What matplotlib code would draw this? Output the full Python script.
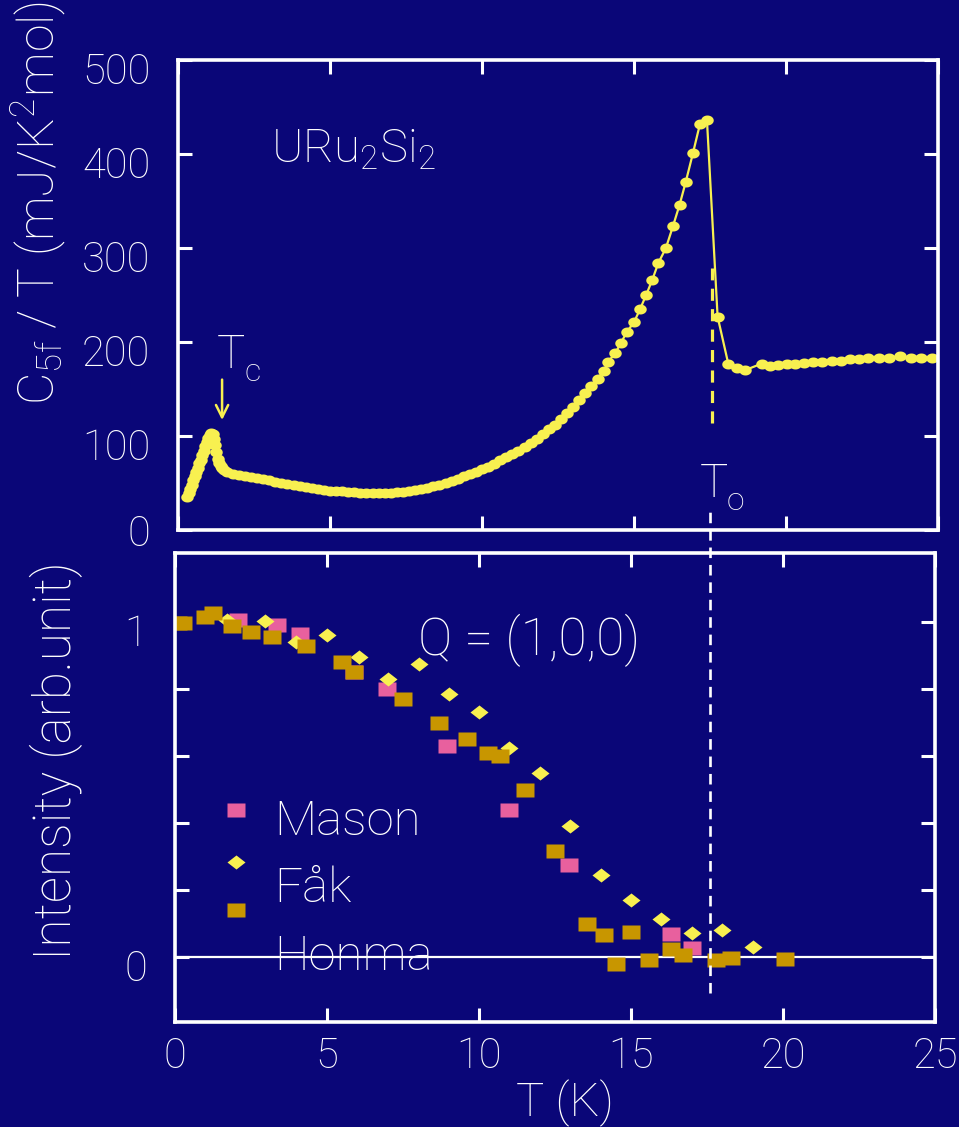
import numpy as np
import matplotlib.pyplot as plt
import matplotlib.transforms as mtransforms
from matplotlib.ticker import FixedLocator, FuncFormatter

bg = '#0a0678'
yellow = '#f8f050'
pink = '#e8609e'
gold = '#c89600'

plt.rcParams['font.family'] = ['Roboto', 'Liberation Sans', 'DejaVu Sans']
plt.rcParams['font.weight'] = 'light'
plt.rcParams['mathtext.default'] = 'regular'

# specific heat C5f/T (mJ/K^2 mol) vs T (K)
t_cp = [0.30, 0.35, 0.40, 0.45, 0.50, 0.55, 0.60, 0.65, 0.70, 0.75, 0.80, 0.85,
        0.90, 0.95, 1.00, 1.05, 1.10, 1.15, 1.20, 1.23, 1.26, 1.30, 1.35, 1.40,
        1.45, 1.50, 1.6, 1.8, 2.0, 2.2, 2.4, 2.6, 2.8, 3.0, 3.2, 3.4, 3.6, 3.8,
        4.0, 4.2, 4.4, 4.6, 4.8, 5.0, 5.2, 5.4, 5.6, 5.8, 6.0, 6.2, 6.4, 6.6,
        6.8, 7.0, 7.2, 7.4, 7.6, 7.8, 8.0, 8.2, 8.4, 8.6, 8.8, 9.0, 9.2, 9.4,
        9.6, 9.8, 10.0, 10.2, 10.4, 10.6, 10.8, 11.0, 11.2, 11.4, 11.6, 11.8,
        12.0, 12.2, 12.4, 12.6, 12.8, 13.0, 13.2, 13.4, 13.6, 13.8, 14.0,
        14.15, 14.38, 14.57, 14.77, 15.0, 15.2, 15.4, 15.6, 15.8, 16.05, 16.28,
        16.5, 16.7, 16.94, 17.17, 17.4, 17.75, 18.1, 18.4, 18.65, 19.2, 19.47,
        19.74, 20.03, 20.3, 20.6, 20.9, 21.2, 21.5, 21.8, 22.1, 22.4, 22.7,
        23.06, 23.4, 23.75, 24.1, 24.45, 24.8]
cp = [35, 39, 44, 48, 53, 57, 62, 66, 71, 75, 80, 84,
      89, 94, 98, 101, 103, 102, 97, 90, 83, 76, 71, 68,
      66, 64, 62, 60, 58.5, 57, 56, 55, 54, 53, 51.5, 50.5, 49, 48,
      47, 46, 45, 43.5, 42.5, 42, 41.5, 41, 40.5, 40, 39.7, 39.5, 39.3, 39.2,
      39.3, 39.7, 40.2, 40.8, 41.5, 42.5, 43.6, 45, 46.5, 48, 50, 52.5, 54.5, 57,
      59.5, 62, 64.5, 67, 70.5, 74, 77.5, 81, 84.5, 88, 92.5, 97,
      102, 107, 112, 118, 124, 131, 138, 146, 153, 161, 169,
      179, 188, 199, 211, 221, 235, 250, 266, 284, 300, 323,
      346, 370, 401, 432, 436, 227, 177, 172, 170, 177, 175,
      175.5, 177, 177, 178, 179, 179, 180, 180, 182, 182, 183,
      183, 183, 185, 183, 183, 183]

# neutron intensity, Q = (1,0,0)
t_mason = [2.07, 3.35, 4.1, 5.9, 6.97, 8.95, 11.0, 12.96, 16.3, 17.0]
i_mason = [1.006, 0.99, 0.964, 0.85, 0.80, 0.63, 0.44, 0.275, 0.07, 0.027]

t_fak = [1.7, 2.96, 3.98, 5.0, 6.05, 7.0, 8.03, 9.0, 10.0, 11.0, 12.0, 13.0,
         14.0, 15.0, 16.0, 17.0, 18.0, 19.0]
i_fak = [1.006, 1.003, 0.94, 0.96, 0.896, 0.83, 0.875, 0.785, 0.73, 0.624,
         0.55, 0.39, 0.245, 0.17, 0.113, 0.072, 0.08, 0.031]

t_honma = [0.1, 0.26, 0.99, 1.25, 1.87, 2.5, 3.19, 4.3, 5.5, 5.9, 7.5, 8.7,
           9.6, 10.3, 10.7, 11.5, 12.5, 13.55, 14.1, 15.0, 14.5, 15.6, 16.3,
           16.7, 17.8, 18.3, 20.05]
i_honma = [0.997, 0.997, 1.015, 1.027, 0.988, 0.97, 0.955, 0.928, 0.88, 0.85,
           0.77, 0.70, 0.65, 0.61, 0.60, 0.50, 0.315, 0.10, 0.065, 0.075,
           -0.02, -0.01, 0.025, 0.005, -0.01, -0.003, -0.005]

t_o = 17.6
t_c_arrow = 1.45

theta = np.linspace(0, 2 * np.pi, 40)
dot = list(zip(np.cos(theta), 0.8 * np.sin(theta)))
rect = [(-1, -0.78), (1, -0.78), (1, 0.78), (-1, 0.78), (-1, -0.78)]
diamond = [(0, -0.78), (1, 0), (0, 0.78), (-1, 0), (0, -0.78)]

W, H = 959, 1127
fig = plt.figure(figsize=(W / 100, H / 100), dpi=100, facecolor=bg)
ax1 = fig.add_axes([178 / W, 1 - 530 / H, 760 / W, 470 / H])
ax2 = fig.add_axes([175 / W, 1 - 1022 / H, 760 / W, 469 / H])

for ax in (ax1, ax2):
    ax.set_facecolor('none')
    for s in ax.spines.values():
        s.set_color('white')
        s.set_linewidth(2.6)
    ax.tick_params(direction='in', length=10, width=2.2, colors='white',
                   top=True, right=True, labelsize=30)
    ax.tick_params(axis='y', pad=20)
    ax.tick_params(axis='x', pad=10)
    ax.set_xlim(0, 25)
    ax.xaxis.set_major_locator(FixedLocator([0, 5, 10, 15, 20, 25]))

# top panel
ax1.set_ylim(0, 500)
ax1.yaxis.set_major_locator(FixedLocator([0, 100, 200, 300, 400, 500]))
ax1.tick_params(labelbottom=False)
ax1.plot(t_cp, cp, '-', color=yellow, lw=1.6, marker=dot, ms=9, mec='none')
ax1.plot([t_o - 0.05, t_o - 0.05], [114, 279], color=yellow, lw=2.3, dashes=(3.8, 2.6))
ax1.annotate('', xy=(t_c_arrow, 117), xytext=(t_c_arrow, 160),
             arrowprops=dict(arrowstyle='->', color=yellow, lw=1.8,
                             mutation_scale=22, shrinkA=0, shrinkB=0))
ax1.text(0.122, 0.781, 'URu$_2$Si$_2$', transform=ax1.transAxes, color='white',
         fontsize=34, va='baseline', ha='left')
ax1.text(0.051, 0.345, 'T', transform=ax1.transAxes, color='white',
         fontsize=34, va='baseline', ha='left')
ax1.text(0.088, 0.317, 'c', transform=ax1.transAxes, color='white',
         fontsize=23, va='baseline', ha='left')
ax1.text(0.687, 0.070, 'T', transform=ax1.transAxes, color='white',
         fontsize=34, va='baseline', ha='left')
ax1.text(0.722, 0.043, 'o', transform=ax1.transAxes, color='white',
         fontsize=23, va='baseline', ha='left')

# bottom panel
ax2.set_ylim(-0.194, 1.206)
ax2.yaxis.set_major_locator(FixedLocator([0, 0.2, 0.4, 0.6, 0.8, 1.0]))
ax2.yaxis.set_major_formatter(FuncFormatter(lambda v, p: '%d' % v if v in (0, 1) else ''))
ax2.axhline(0, color='white', lw=1.6)
ax2.plot(t_mason, i_mason, ls='none', marker=rect, ms=13.5, color=pink, mec='none')
ax2.plot(t_fak, i_fak, ls='none', marker=diamond, ms=13, color=yellow, mec='none')
ax2.plot(t_honma, i_honma, ls='none', marker=rect, ms=13.5, color=gold, mec='none')
ax2.plot([t_o, t_o], [-0.107, 1.334], color='white', lw=1.9, dashes=(4, 2.6),
         clip_on=False)

legend_y = [0.452, 0.341, 0.239]
legend_txt_y = [0.399, 0.256, 0.111]
for (mk, col, name, ym, yt) in zip([rect, diamond, rect], [pink, yellow, gold],
                                   ['Mason', 'Fåk', 'Honma'], legend_y, legend_txt_y):
    ax2.plot([0.080], [ym], transform=ax2.transAxes, ls='none', marker=mk,
             ms=13, color=col, mec='none')
    ax2.text(0.130, yt, name, transform=ax2.transAxes, color='white',
             fontsize=35.5, va='baseline', ha='left')
ax2.text(0.320, 0.782, 'Q = (1,0,0)', transform=ax2.transAxes, color='white',
         fontsize=37, va='baseline', ha='left')

# y tick labels sit a little below their ticks in the original
shift = mtransforms.ScaledTranslation(0, -8 / 100, fig.dpi_scale_trans)
for ax in (ax1, ax2):
    for lab in ax.get_yticklabels():
        if ax is ax1 and lab.get_text() == '0':
            continue
        lab.set_transform(lab.get_transform() + shift)

fig.text(38 / W, 1 - 203 / H, 'C$_{5f}$ / T (mJ/K$^2$mol)', rotation=90,
         color='white', fontsize=36, ha='center', va='center')
fig.text(56 / W, 1 - 761 / H, 'Intensity (arb.unit)', rotation=90,
         color='white', fontsize=37, ha='center', va='center')
fig.text(565 / W, 1 - 1103 / H, 'T (K)', color='white', fontsize=34,
         ha='center', va='center')

fig.savefig('out.png', dpi=100, facecolor=bg)
